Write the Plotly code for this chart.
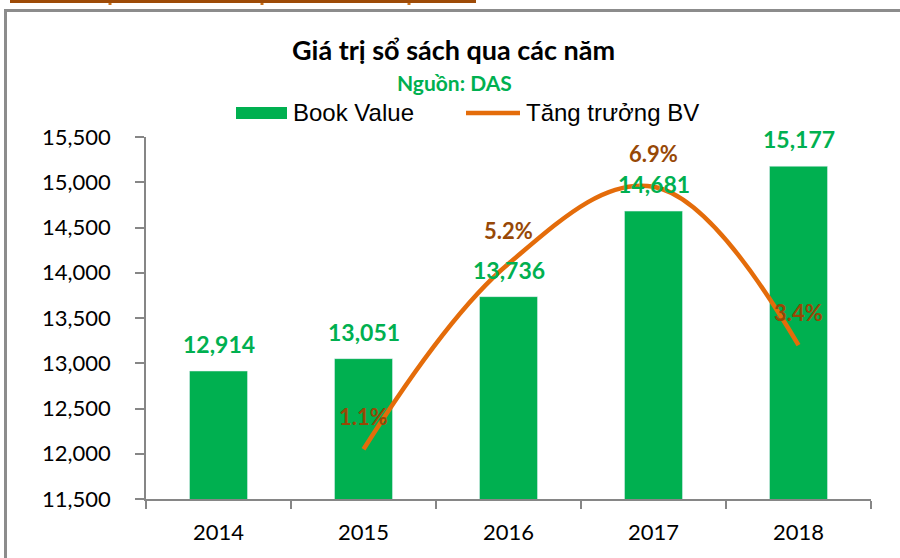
import plotly.graph_objects as go

# ---- data ----
years = ["2014", "2015", "2016", "2017", "2018"]
book_value = [12914, 13051, 13736, 14681, 15177]
growth_years = ["2015", "2016", "2017", "2018"]
growth_pct = [1.1, 5.2, 6.9, 3.4]
y_ticks = [11500, 12000, 12500, 13000, 13500, 14000, 14500, 15000, 15500]

GREEN = "#00B050"
ORANGE = "#E46C0A"
BROWN = "#974806"
GREY = "#868686"
FONT = "Lato"

# plot-area pixel frame (for paper-coordinate decorations)
L, R, T, B = 146, 871, 137, 499
W, H = R - L, B - T


def px(x):
    return (x - L) / W


def py(y):
    return (B - y) / H


fig = go.Figure()
fig.add_trace(go.Bar(x=years, y=book_value, marker_color=GREEN, width=0.4,
                     showlegend=False, name="Book Value"))
fig.add_trace(go.Scatter(x=growth_years, y=growth_pct, yaxis="y2", mode="lines",
                         line=dict(color=ORANGE, width=4.5, shape="spline", smoothing=1.1),
                         showlegend=False, name="Tăng trưởng BV"))

annotations = []
for x, v in zip(years, book_value):
    annotations.append(dict(x=years.index(x), y=v, xref="x", yref="y", text=f"{v:,}",
                            showarrow=False, yanchor="middle", yshift=27,
                            font=dict(family=FONT, size=23, color=GREEN, weight="bold")))
for x, g in zip(growth_years, growth_pct):
    annotations.append(dict(x=years.index(x), y=g, xref="x", yref="y2", text=f"{g}%",
                            showarrow=False, yanchor="middle", yshift=33,
                            font=dict(family=FONT, size=22, color=BROWN, weight="bold")))

# title / subtitle
annotations.append(dict(x=px(453), y=py(50), xref="paper", yref="paper", showarrow=False,
                        text="Giá trị sổ sách qua các năm", xanchor="center", yanchor="middle",
                        font=dict(family=FONT, size=27, color="black", weight="bold")))
annotations.append(dict(x=px(454), y=py(82), xref="paper", yref="paper", showarrow=False,
                        text="Nguồn: DAS", xanchor="center", yanchor="middle",
                        font=dict(family=FONT, size=21, color=GREEN, weight="bold")))
# legend texts
annotations.append(dict(x=px(291), y=py(113), xref="paper", yref="paper", showarrow=False,
                        text="Book Value", xanchor="left", yanchor="middle",
                        font=dict(family="Liberation Sans", size=24, color="black")))
annotations.append(dict(x=px(524), y=py(113), xref="paper", yref="paper", showarrow=False,
                        text="Tăng trưởng BV", xanchor="left", yanchor="middle",
                        font=dict(family="Liberation Sans", size=24, color="black")))

shapes = [
    # legend symbols
    dict(type="rect", xref="paper", yref="paper", x0=px(236), x1=px(287), y0=py(119), y1=py(107),
         fillcolor=GREEN, line=dict(width=0)),
    dict(type="line", xref="paper", yref="paper", x0=px(466), x1=px(520), y0=py(113), y1=py(113),
         line=dict(color=ORANGE, width=4.5)),
    # outer grey frame
    dict(type="rect", xref="paper", yref="paper", x0=px(5.5), x1=px(960), y0=py(600), y1=py(10.5),
         fillcolor="rgba(0,0,0,0)", line=dict(color="#8C8C8C", width=3)),
    # brown strip at the top
    dict(type="rect", xref="paper", yref="paper", x0=px(10), x1=px(476), y0=py(3), y1=py(-2),
         fillcolor="#9E4B07", line=dict(width=0)),
]
for tx in [110, 262, 409]:
    shapes.append(dict(type="rect", xref="paper", yref="paper", x0=px(tx - 1.5), x1=px(tx + 1.5),
                       y0=py(5), y1=py(3), fillcolor="#C8701A", line=dict(width=0)))

fig.update_layout(
    width=900, height=558,
    margin=dict(l=L, r=900 - R, t=T, b=558 - B, pad=0),
    paper_bgcolor="white", plot_bgcolor="white",
    showlegend=False,
    font=dict(family=FONT, color="black"),
    xaxis=dict(type="category", range=[-0.5, 4.5], showline=True, linecolor=GREY, linewidth=1.5,
               ticks="outside", tickson="boundaries", ticklen=8, tickcolor=GREY, tickwidth=1.5,
               showgrid=False, tickfont=dict(family=FONT, size=22, color="black"),
               ticklabelstandoff=13),
    yaxis=dict(range=[11500, 15500], tickvals=y_ticks, tickformat=",", showline=True,
               linecolor=GREY, linewidth=1.5, ticks="outside", ticklen=9, tickcolor=GREY,
               tickwidth=1.5, showgrid=False, zeroline=False,
               tickfont=dict(family=FONT, size=22, color="black"), ticklabelstandoff=20),
    yaxis2=dict(range=[0, 8], overlaying="y", side="right", visible=False, showgrid=False),
    annotations=annotations,
    shapes=shapes,
)

fig.write_html("out.html", config={"displayModeBar": False},
               post_script="document.body.style.margin='0px';")
